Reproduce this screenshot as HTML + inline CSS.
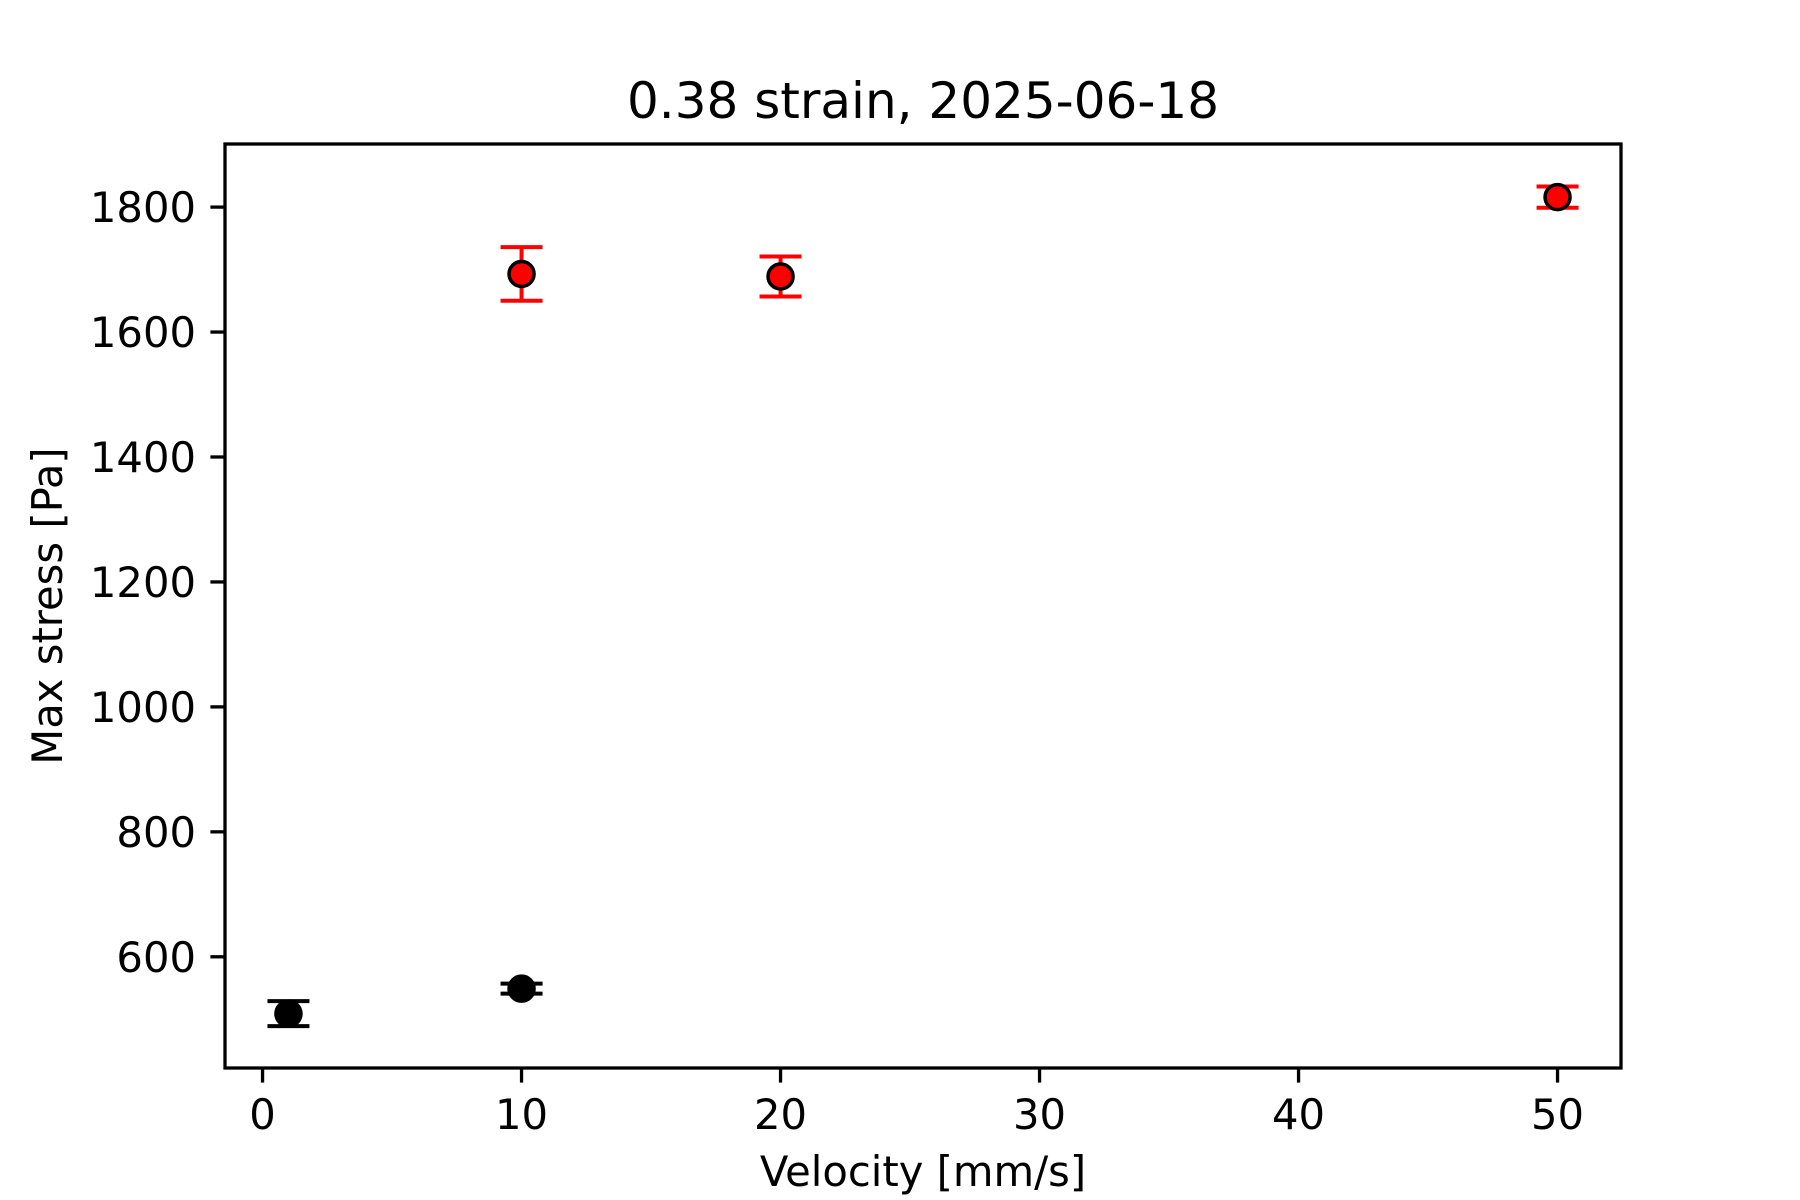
<!DOCTYPE html>
<html><head><meta charset="utf-8"><style>
body{margin:0;background:#fff}
svg{display:block;font-family:"DejaVu Sans","Liberation Sans",sans-serif}
</style></head><body>
<svg id="chart" width="1800" height="1200" viewBox="0 0 1800 1200" xmlns="http://www.w3.org/2000/svg">
<rect width="1800" height="1200" fill="#fff"/>
<text x="923" y="118" font-size="50" text-anchor="middle">0.38 strain, 2025-06-18</text>
<text x="923" y="1186" font-size="41.7" text-anchor="middle">Velocity [mm/s]</text>
<text x="0" y="0" font-size="41.7" text-anchor="middle" transform="translate(62,606) rotate(-90)">Max stress [Pa]</text>
<g id="ticks"></g>
<g id="marks"></g>
<rect x="225" y="144" width="1396" height="924" fill="none" stroke="#000" stroke-width="3.3"/>
</svg>
<script>
const xTicks = [0, 10, 20, 30, 40, 50];
const yTicks = [600, 800, 1000, 1200, 1400, 1600, 1800];
const blackX = [1, 10];
const blackY = [509, 549];
const blackErr = [20, 8];
const redX = [10, 20, 50];
const redY = [1693, 1689, 1816];
const redErr = [43, 32, 17];

const L = 225, R = 1621, T = 144, B = 1068;
const xMin = -1.45, xMax = 52.45, yMin = 422, yMax = 1901;
const sx = v => L + (v - xMin) / (xMax - xMin) * (R - L);
const sy = v => B - (v - yMin) / (yMax - yMin) * (B - T);
const NS = "http://www.w3.org/2000/svg";
function mk(tag, attrs, parent) {
  const e = document.createElementNS(NS, tag);
  for (const k in attrs) e.setAttribute(k, attrs[k]);
  parent.appendChild(e);
  return e;
}
const tg = document.getElementById('ticks');
xTicks.forEach(t => {
  const x = sx(t);
  const l = mk('line', {x1: x, x2: x, y1: B, y2: B + 14.6, stroke: '#000', 'stroke-width': 3.3}, tg);
  
  
  const tx = mk('text', {x: x, y: B + 61, 'font-size': 41.7, 'text-anchor': 'middle'}, tg);
  tx.textContent = t;
  
  
});
yTicks.forEach(t => {
  const y = sy(t);
  const l = mk('line', {x1: L - 14.6, x2: L, y1: y, y2: y, stroke: '#000', 'stroke-width': 3.3}, tg);
  
  
  const tx = mk('text', {x: L - 29, y: y + 15, 'font-size': 41.7, 'text-anchor': 'end'}, tg);
  tx.textContent = t;
  
  
});
const mg = document.getElementById('marks');
function point(xv, yv, ev, color, name) {
  const g = mk('g', {}, mg);
  
  
  const x = sx(xv), y1 = sy(yv - ev), y2 = sy(yv + ev), y = sy(yv);
  mk('line', {x1: x, x2: x, y1: y1, y2: y2, stroke: color, 'stroke-width': 4}, g);
  mk('line', {x1: x - 21, x2: x + 21, y1: y1, y2: y1, stroke: color, 'stroke-width': 4}, g);
  mk('line', {x1: x - 21, x2: x + 21, y1: y2, y2: y2, stroke: color, 'stroke-width': 4}, g);
  mk('circle', {cx: x, cy: y, r: 12.5, fill: color === 'red' ? '#ff0000' : '#000', stroke: '#000', 'stroke-width': 3.5}, g);
}
blackX.forEach((v, i) => point(v, blackY[i], blackErr[i], '#000', 'black-point'));
redX.forEach((v, i) => point(v, redY[i], redErr[i], 'red', 'red-point'));
</script>
</body></html>
